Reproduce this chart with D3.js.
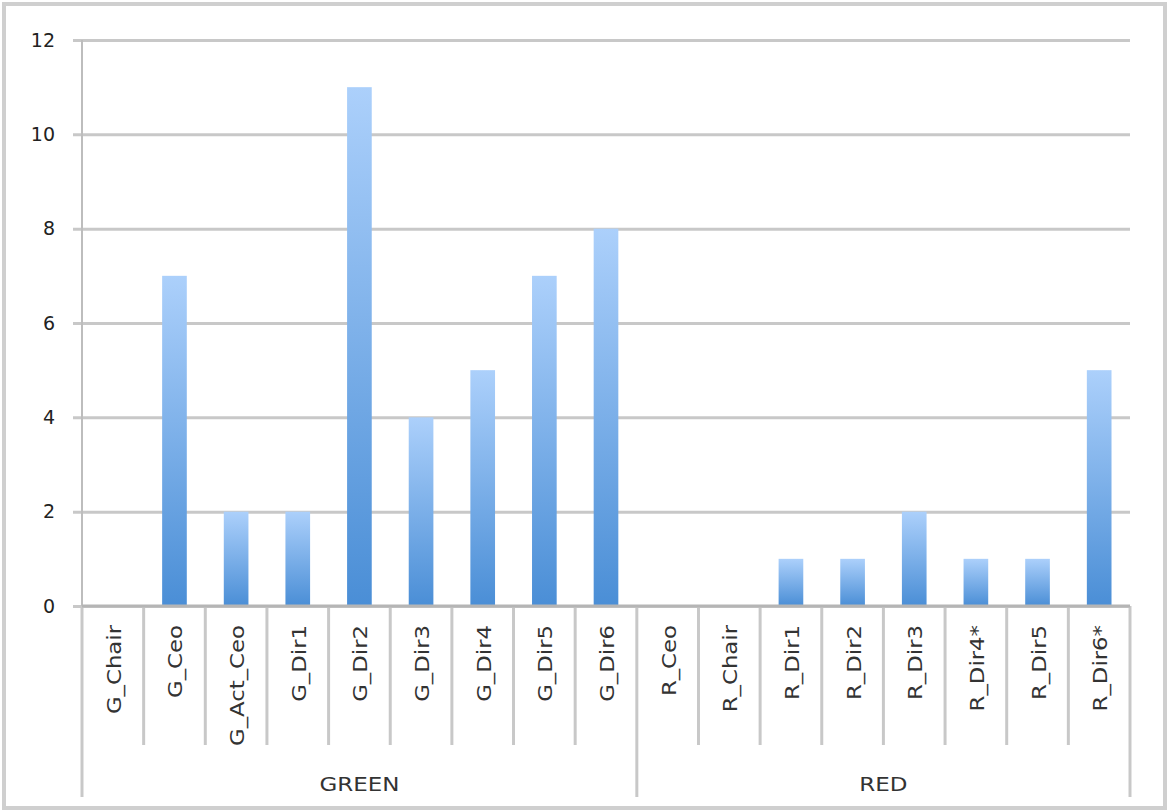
<!DOCTYPE html>
<html>
<head>
<meta charset="utf-8">
<script src="https://cdn.jsdelivr.net/npm/d3@7"></script>
<style>
  body { margin: 0; background: #fff; }
  text { font-family: "DejaVu Sans", Verdana, sans-serif; fill: #333; }
</style>
</head>
<body>
<svg class="chart"></svg>
<script>
// categories and values
var groups = ["GREEN", "RED"];
var categories = ["G_Chair", "G_Ceo", "G_Act_Ceo", "G_Dir1", "G_Dir2", "G_Dir3", "G_Dir4", "G_Dir5", "G_Dir6",
                  "R_Ceo", "R_Chair", "R_Dir1", "R_Dir2", "R_Dir3", "R_Dir4*", "R_Dir5", "R_Dir6*"];
var categoryGroup = ["GREEN", "GREEN", "GREEN", "GREEN", "GREEN", "GREEN", "GREEN", "GREEN", "GREEN",
                     "RED", "RED", "RED", "RED", "RED", "RED", "RED", "RED"];
var values = [0, 7, 2, 2, 11, 4, 5, 7, 8, 0, 0, 1, 1, 2, 1, 1, 5];
var yTicks = [0, 2, 4, 6, 8, 10, 12];

var width = 1168, height = 810;
var plotLeft = 82, plotRight = 1130, plotTop = 40, plotBottom = 606;

var svg = d3.select(".chart")
    .attr("width", width)
    .attr("height", height);

// outer frame
svg.append("rect")
    .attr("x", 4).attr("y", 4)
    .attr("width", width - 7).attr("height", height - 6)
    .attr("fill", "none")
    .attr("stroke", "#cfcfcf")
    .attr("stroke-width", 4);

var x = d3.scaleBand()
    .domain(categories)
    .range([plotLeft, plotRight])
    .padding(0);

var y = d3.scaleLinear()
    .domain([0, 12])
    .range([plotBottom, plotTop]);

var defs = svg.append("defs");
var grad = defs.append("linearGradient")
    .attr("id", "barGrad")
    .attr("x1", 0).attr("y1", 0)
    .attr("x2", 0).attr("y2", 1);
grad.append("stop").attr("offset", "0%").attr("stop-color", "#acd0fb");
grad.append("stop").attr("offset", "100%").attr("stop-color", "#4a8ed6");

// gridlines + y labels
var yAxis = d3.axisLeft(y)
    .tickValues(yTicks)
    .tickSize(-(plotRight - plotLeft) - 9)
    .tickPadding(18)
    .tickFormat(d3.format("d"));

var gy = svg.append("g")
    .attr("transform", "translate(" + (plotLeft - 9) + ",0)")
    .call(yAxis);
gy.select(".domain").remove();
gy.selectAll(".tick line")
    .attr("stroke", "#c8c8c8")
    .attr("stroke-width", 3);
gy.selectAll(".tick text")
    .style("font-size", "19px")
    .style("fill", "#222");

// vertical axis line
svg.append("line")
    .attr("x1", plotLeft).attr("x2", plotLeft)
    .attr("y1", plotTop).attr("y2", plotBottom)
    .attr("stroke", "#bdbdbd")
    .attr("stroke-width", 2);

// bars
var barW = x.bandwidth() * 0.4;
svg.selectAll(".bar")
    .data(values)
    .enter().append("rect")
    .attr("class", "bar")
    .attr("x", function (d, i) { return x(categories[i]) + (x.bandwidth() - barW) / 2; })
    .attr("y", function (d) { return y(d); })
    .attr("width", barW)
    .attr("height", function (d) { return y(0) - y(d); })
    .attr("fill", "url(#barGrad)");

// category separators
var inner = d3.range(1, categories.length).filter(function (i) {
    return categoryGroup[i] === categoryGroup[i - 1];
});
svg.selectAll(".sep")
    .data(inner)
    .enter().append("line")
    .attr("x1", function (i) { return x(categories[i]); })
    .attr("x2", function (i) { return x(categories[i]); })
    .attr("y1", plotBottom)
    .attr("y2", 745)
    .attr("stroke", "#c8c8c8")
    .attr("stroke-width", 3);

// group boundaries
var groupEdges = [plotLeft];
groups.forEach(function (g) {
    var last = categories.filter(function (c, i) { return categoryGroup[i] === g; }).pop();
    groupEdges.push(x(last) + x.bandwidth());
});
svg.selectAll(".gsep")
    .data(groupEdges)
    .enter().append("line")
    .attr("x1", function (d) { return d; })
    .attr("x2", function (d) { return d; })
    .attr("y1", plotBottom)
    .attr("y2", 797)
    .attr("stroke", "#c8c8c8")
    .attr("stroke-width", 3);

// x axis line
svg.append("line")
    .attr("x1", plotLeft).attr("x2", plotRight)
    .attr("y1", plotBottom).attr("y2", plotBottom)
    .attr("stroke", "#b5b5b5")
    .attr("stroke-width", 3);

// category labels (slightly stretched along their length, like the original font)
svg.selectAll(".clabel")
    .data(categories)
    .enter().append("text")
    .attr("transform", function (d) {
        return "translate(" + (x(d) + x.bandwidth() / 2 + 8) + "," + 625 + ") rotate(-90) scale(1.14,1)";
    })
    .attr("text-anchor", "end")
    .style("font-size", "20px")
    .text(function (d) { return d; });

// group labels
svg.selectAll(".glabel")
    .data(groups)
    .enter().append("text")
    .attr("transform", function (g, i) {
        return "translate(" + (groupEdges[i] + groupEdges[i + 1]) / 2 + ",791) scale(1.15,1)";
    })
    .attr("text-anchor", "middle")
    .style("font-size", "20px")
    .text(function (d) { return d; });
</script>
</body>
</html>
